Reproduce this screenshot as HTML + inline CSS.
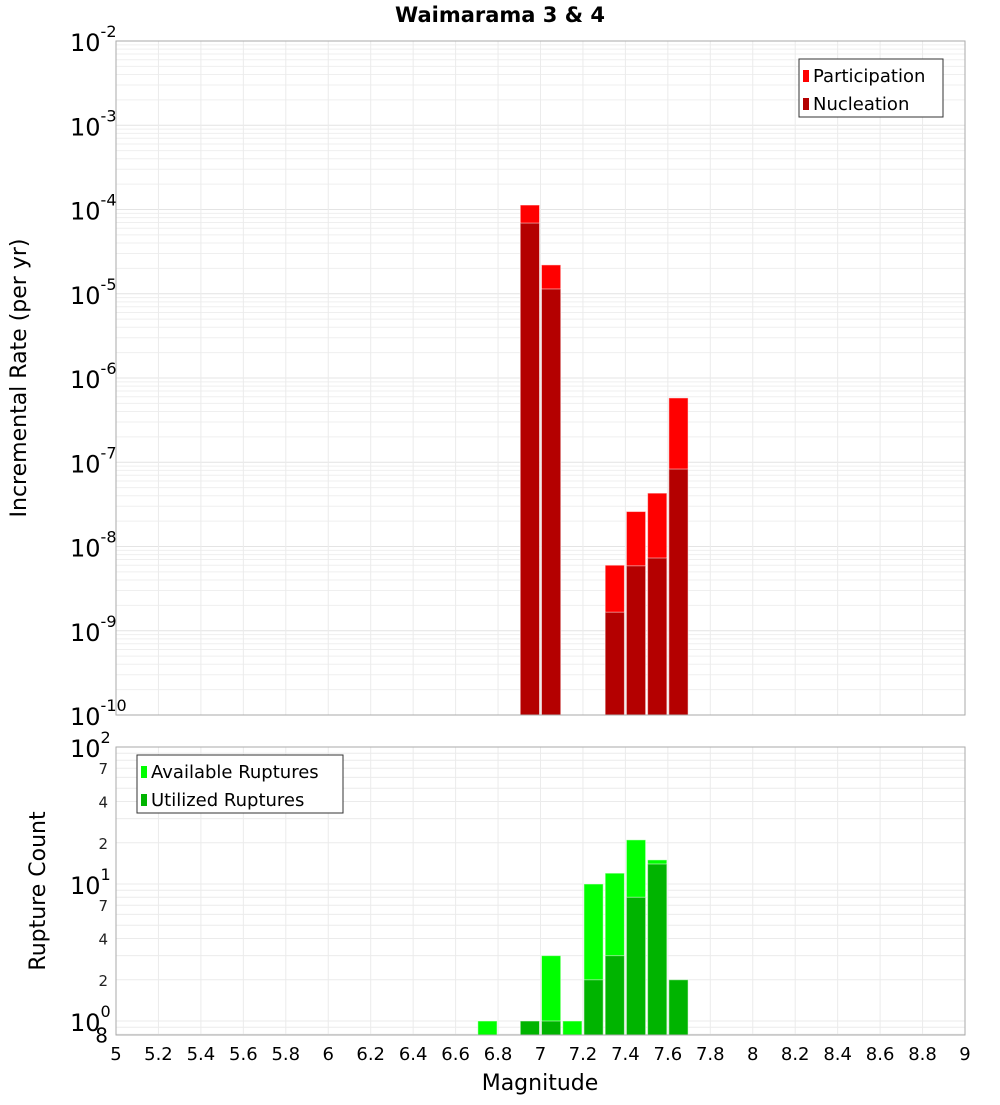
<!DOCTYPE html>
<html><head><meta charset="utf-8"><style>
body{margin:0;background:#fff;font-family:"Liberation Sans","DejaVu Sans",sans-serif}
svg text{font-family:"DejaVu Sans","Liberation Sans",sans-serif}
</style></head><body>
<svg id="c" width="1000" height="1100" xmlns="http://www.w3.org/2000/svg"></svg>
<script>
const bins=[6.75,6.95,7.05,7.15,7.25,7.35,7.45,7.55,7.65];
const participation=[null,1.13e-4,2.2e-5,null,null,6.0e-9,2.6e-8,4.3e-8,5.8e-7];
const nucleation=[null,6.9e-5,1.14e-5,null,null,1.66e-9,5.9e-9,7.3e-9,8.3e-8];
const available=[1,null,3,1,10,12,21,15,2];
const utilized=[null,1,1,null,2,3,8,14,2];
const xTicks=[5,5.2,5.4,5.6,5.8,6,6.2,6.4,6.6,6.8,7,7.2,7.4,7.6,7.8,8,8.2,8.4,8.6,8.8,9];
const topDecades=[-2,-3,-4,-5,-6,-7,-8,-9,-10];
const botMinorLabels=[2,4,7,20,40,70];

const NS="http://www.w3.org/2000/svg",svg=document.getElementById('c');
function el(t,a,p){const e=document.createElementNS(NS,t);for(const k in a)e.setAttribute(k,a[k]);(p||svg).appendChild(e);return e;}
const L=116,R=965;
const X=v=>L+(v-5)/4*(R-L);
const T0=41,T1=715;
const YT=v=>T0+(-2-Math.log10(v))*(T1-T0)/8;
const B0=747,B1=1035,DEC=137;
const YB=v=>B0+(2-Math.log10(v))*DEC;

// title
let t=el('text',{x:500,y:22,'text-anchor':'middle','font-size':21,'font-weight':'bold'});t.textContent='Waimarama 3 & 4';


// top grid
let g=el('g',{});
for(let d=-10;d<-2;d++)for(let m=1;m<10;m++){const y=YT(m*Math.pow(10,d));el('line',{x1:L,x2:R,y1:y,y2:y,stroke:m==1?'#e4e4e4':'#efefef','stroke-width':1},g);}
for(const v of xTicks){el('line',{x1:X(v),x2:X(v),y1:T0,y2:T1,stroke:'#ebebeb'},g);}
// bottom grid
let g2=el('g',{});
for(let d=-1;d<2;d++)for(let m=1;m<10;m++){const v=m*Math.pow(10,d);const y=YB(v);if(y>B1||y<B0)continue;el('line',{x1:L,x2:R,y1:y,y2:y,stroke:'#ebebeb'},g2);}
for(const v of xTicks){el('line',{x1:X(v),x2:X(v),y1:B0,y2:B1,stroke:'#ebebeb'},g2);}

const bw=(X(5.1)-X(5));
function bars(vals,color,Y,base,name){
  vals.forEach((v,i)=>{if(v==null)return;const x=X(bins[i])-bw/2+1;const y=Y(v);
    const r=el('rect',{x:x,y:y,width:bw-2,height:base-y,fill:color,stroke:'#fff','stroke-opacity':0.5,'stroke-width':1});
    });
}
bars(participation,'#ff0000',YT,T1,'participation');
bars(nucleation,'#b40000',YT,T1,'nucleation');
bars(available,'#00ff00',YB,B1,'available');
bars(utilized,'#00b400',YB,B1,'utilized');

// frames
el('rect',{x:L,y:T0,width:R-L,height:T1-T0,fill:'none',stroke:'#aaa'});
el('rect',{x:L,y:B0,width:R-L,height:B1-B0,fill:'none',stroke:'#aaa'});

// top y labels
topDecades.forEach(d=>{const y=YT(Math.pow(10,d));const tx=el('text',{x:70,y:y+10,'font-size':24});
 tx.textContent='10';const s=el('tspan',{dy:-14,'font-size':16},tx);s.textContent=String(d);
 });
// bottom y labels
[0,1,2].forEach(d=>{const y=YB(Math.pow(10,d));const tx=el('text',{x:70,y:y+10,'font-size':24});
 tx.textContent='10';const s=el('tspan',{dy:-14,'font-size':16},tx);s.textContent=String(d);
 });
botMinorLabels.forEach(v=>{const tx=el('text',{x:108,y:YB(v)+6,'font-size':15,'text-anchor':'end',fill:'#222'});tx.textContent=String(v<10?v:v/10);
 });
let e8=el('text',{x:108,y:YB(0.8)+8,'font-size':20,'text-anchor':'end'});e8.textContent='8';

// x labels
xTicks.forEach(v=>{const tx=el('text',{x:X(v),y:1060,'font-size':18,'text-anchor':'middle'});tx.textContent=String(v);
 });
let xt=el('text',{x:540,y:1090,'font-size':22,'text-anchor':'middle'});xt.textContent='Magnitude';

let y1=el('text',{x:0,y:0,'font-size':22,'text-anchor':'middle',transform:'translate(26,378) rotate(-90)'});y1.textContent='Incremental Rate (per yr)';

let y2=el('text',{x:0,y:0,'font-size':22,'text-anchor':'middle',transform:'translate(45,891) rotate(-90)'});y2.textContent='Rupture Count';


// legends
function legend(x,y,w,items,name){const lg=el('g',{});
 el('rect',{x:x,y:y,width:w,height:58,fill:'#fff',stroke:'#333'},lg);
 items.forEach((it,i)=>{el('rect',{x:x+4,y:y+11+i*28,width:6,height:12,fill:it[1]},lg);
  const tx=el('text',{x:x+14,y:y+23+i*28,'font-size':18},lg);tx.textContent=it[0];});}
legend(799,59,144,[['Participation','#ff0000'],['Nucleation','#b40000']],'top-legend');
legend(137,755,206,[['Available Ruptures','#00ff00'],['Utilized Ruptures','#00b400']],'bottom-legend');
</script>
</body></html>
